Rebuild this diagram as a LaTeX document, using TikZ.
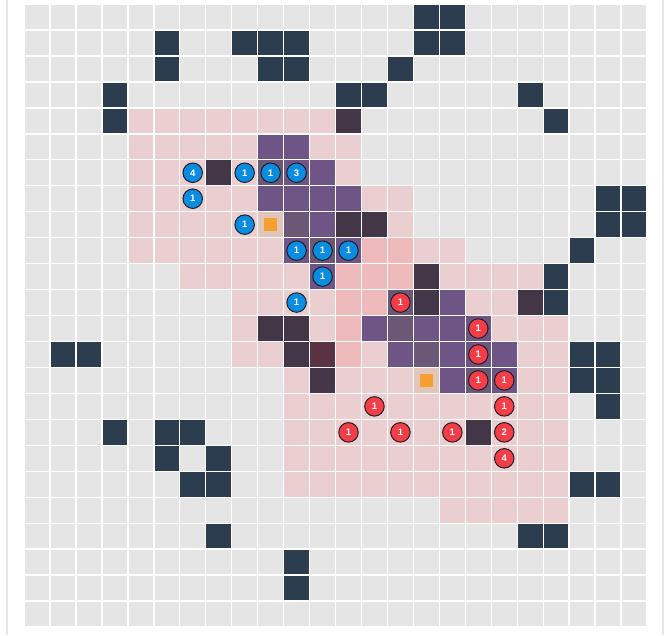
\documentclass[tikz,border=0pt]{standalone}
\usepackage{fontspec}
\setmainfont{Liberation Sans}
\definecolor{cgray}{HTML}{E5E5E5}
\definecolor{cnavy}{HTML}{2B3D4F}
\definecolor{cpink}{HTML}{EBCFD0}
\definecolor{cdeep}{HTML}{EFBABC}
\definecolor{cpurp}{HTML}{6E5585}
\definecolor{cmute}{HTML}{6B5877}
\definecolor{cdark}{HTML}{433747}
\definecolor{cred}{HTML}{5A3242}
\definecolor{cobg}{HTML}{E2C6BC}
\definecolor{corange}{HTML}{F4A030}
\definecolor{tokblue}{HTML}{0A8DE0}
\definecolor{tokred}{HTML}{F53D48}
\definecolor{tokline}{HTML}{1E1E28}
\definecolor{cframe}{HTML}{E6E6E6}
\newcommand\gridcells[2]{\foreach \c/\r in {#2} \fill[#1] ({24+\c*25.96+0.7},{4+\r*25.96+0.7}) rectangle ++(24.56,24.56);}
\tikzset{
  tok/.style={circle, draw=tokline, line width=1pt, minimum size=19.5pt, inner sep=0pt, text=white, font=\fontsize{9.5}{10}\selectfont\bfseries},
  bluetok/.style={tok, fill=tokblue},
  redtok/.style={tok, fill=tokred},
  goalsq/.style={rectangle, fill=corange, minimum size=13pt, inner sep=0pt}
}
\begin{document}
\begin{tikzpicture}[x=1pt,y=-1pt]
\useasboundingbox (0,0) rectangle (669,635);
\fill[white] (0,0) rectangle (669,635);
\fill[cframe] (6,0) rectangle (8,635);
\fill[cframe] (662,0) rectangle (664,635);
% base grid
\foreach \c in {0,...,23} {\foreach \r in {0,...,23} {\fill[cgray] ({24+\c*25.96+0.7},{4+\r*25.96+0.7}) rectangle ++(24.56,24.56);}}
% walls
\gridcells{cnavy}{15/0,16/0,5/1,8/1,9/1,10/1,15/1,16/1,5/2,9/2,10/2,14/2,3/3,12/3,13/3,19/3,3/4,20/4,22/7,23/7,22/8,23/8,21/9,20/10,20/11,1/13,2/13,21/13,22/13,21/14,22/14,22/15,3/16,5/16,6/16,5/17,7/17,6/18,7/18,21/18,22/18,7/20,19/20,20/20,10/21,10/22}
% pink
\gridcells{cpink}{4/4,5/4,6/4,7/4,8/4,9/4,10/4,11/4,
4/5,5/5,6/5,7/5,8/5,11/5,12/5,
4/6,5/6,6/6,8/6,12/6,
4/7,5/7,6/7,7/7,8/7,13/7,14/7,
4/8,5/8,6/8,7/8,8/8,14/8,
4/9,5/9,6/9,7/9,8/9,9/9,15/9,16/9,
6/10,7/10,8/10,9/10,10/10,16/10,17/10,18/10,19/10,
8/11,9/11,10/11,11/11,17/11,18/11,
8/12,11/12,18/12,19/12,20/12,
8/13,9/13,13/13,19/13,20/13,
10/14,12/14,13/14,14/14,19/14,20/14,
10/15,11/15,12/15,13/15,14/15,15/15,16/15,17/15,18/15,19/15,20/15,
10/16,11/16,12/16,13/16,14/16,15/16,16/16,18/16,19/16,20/16,
10/17,11/17,12/17,13/17,14/17,15/17,16/17,17/17,18/17,19/17,20/17,
10/18,11/18,12/18,13/18,14/18,15/18,16/18,17/18,18/18,19/18,20/18,
16/19,17/19,18/19,19/19,20/19}
\gridcells{cdeep}{13/9,14/9,12/10,13/10,14/10,12/11,13/11,12/12,12/13}
\gridcells{cpurp}{9/5,10/5,10/6,11/6,9/7,10/7,11/7,12/7,11/8,10/9,12/9,11/10,16/11,13/12,15/12,16/12,17/12,14/13,16/13,17/13,18/13,16/14,18/14}
\gridcells{cmute}{9/6,10/8,11/9,14/11,14/12,15/13,17/14}
\gridcells{cdark}{12/4,7/6,12/8,13/8,15/10,15/11,19/11,9/12,10/12,10/13,11/14,17/16}
\gridcells{cred}{11/13}
\gridcells{cobg}{9/8,15/14}
% goals
\node[goalsq] (goal1) at ({24+9*25.96+12.98},{4+8*25.96+12.98}) {};
\node[goalsq] (goal2) at ({24+15*25.96+12.98},{4+14*25.96+12.98}) {};
% blue units
\foreach \c/\r/\n [count=\i] in {6/6/4,8/6/1,9/6/1,10/6/3,6/7/1,8/8/1,10/9/1,11/9/1,12/9/1,11/10/1,10/11/1}
  \node[bluetok] (blue\i) at ({24+\c*25.96+12.98},{4+\r*25.96+12.98}) {\n};
% red units
\foreach \c/\r/\n [count=\i] in {14/11/1,17/12/1,17/13/1,17/14/1,18/14/1,13/15/1,18/15/1,12/16/1,14/16/1,16/16/1,18/16/2,18/17/4}
  \node[redtok] (red\i) at ({24+\c*25.96+12.98},{4+\r*25.96+12.98}) {\n};
\end{tikzpicture}
\end{document}
